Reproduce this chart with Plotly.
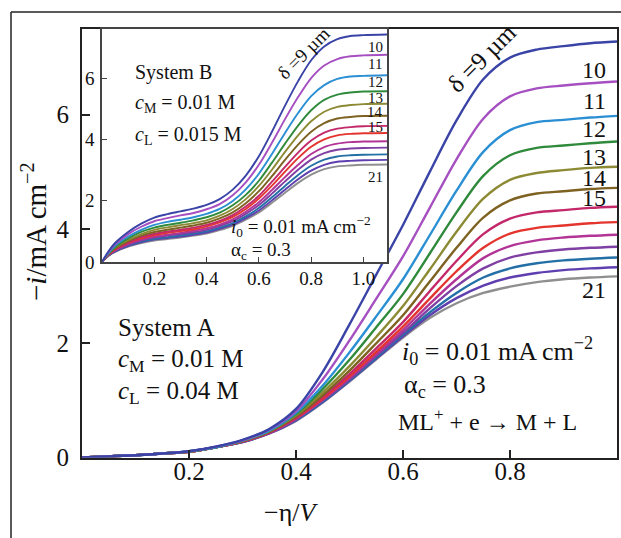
import plotly.graph_objects as go

# ---------------- data ----------------
DELTAS = [9, 10, 11, 12, 13, 14, 15, 16, 17, 18, 19, 20, 21]

# System A (main panel): -eta / V and -i / mA cm^-2 for each diffusion-layer thickness (um)
eta_a = [0, 0.05, 0.1, 0.15, 0.2, 0.25, 0.3, 0.35, 0.4, 0.45, 0.5, 0.55, 0.6, 0.65, 0.7,
         0.75, 0.8, 0.85, 0.9, 0.95, 1.0]
a_09 = [0, 0.02, 0.04, 0.07, 0.11, 0.19, 0.31, 0.50, 0.85, 1.50, 2.33, 3.20, 4.07, 5.00, 5.90, 6.62, 7.00, 7.14, 7.20, 7.25, 7.28]
a_10 = [0, 0.02, 0.04, 0.07, 0.11, 0.19, 0.30, 0.49, 0.81, 1.37, 2.05, 2.78, 3.52, 4.37, 5.22, 5.93, 6.32, 6.46, 6.51, 6.55, 6.58]
a_11 = [0, 0.02, 0.04, 0.07, 0.11, 0.18, 0.30, 0.47, 0.78, 1.26, 1.84, 2.47, 3.12, 3.89, 4.67, 5.35, 5.73, 5.87, 5.91, 5.95, 5.98]
a_12 = [0, 0.02, 0.04, 0.07, 0.11, 0.18, 0.29, 0.47, 0.76, 1.20, 1.71, 2.28, 2.86, 3.57, 4.29, 4.93, 5.29, 5.42, 5.46, 5.50, 5.53]
a_13 = [0, 0.02, 0.04, 0.07, 0.10, 0.18, 0.29, 0.46, 0.74, 1.14, 1.60, 2.11, 2.65, 3.29, 3.95, 4.53, 4.86, 4.98, 5.03, 5.07, 5.09]
a_14 = [0, 0.02, 0.04, 0.07, 0.10, 0.18, 0.29, 0.45, 0.72, 1.09, 1.52, 2.00, 2.49, 3.08, 3.67, 4.20, 4.50, 4.62, 4.66, 4.70, 4.72]
a_15 = [0, 0.02, 0.04, 0.07, 0.10, 0.18, 0.28, 0.44, 0.70, 1.06, 1.46, 1.91, 2.37, 2.91, 3.44, 3.91, 4.18, 4.29, 4.33, 4.37, 4.39]
a_16 = [0, 0.02, 0.04, 0.07, 0.10, 0.18, 0.28, 0.44, 0.69, 1.03, 1.42, 1.85, 2.29, 2.78, 3.26, 3.67, 3.92, 4.02, 4.06, 4.10, 4.12]
a_17 = [0, 0.02, 0.04, 0.07, 0.10, 0.18, 0.28, 0.43, 0.68, 1.01, 1.39, 1.81, 2.23, 2.69, 3.12, 3.49, 3.70, 3.80, 3.85, 3.88, 3.90]
a_18 = [0, 0.02, 0.04, 0.07, 0.10, 0.18, 0.28, 0.43, 0.67, 1.00, 1.37, 1.78, 2.18, 2.61, 3.00, 3.31, 3.50, 3.59, 3.64, 3.67, 3.69]
a_19 = [0, 0.02, 0.04, 0.07, 0.10, 0.18, 0.27, 0.43, 0.66, 0.98, 1.35, 1.75, 2.15, 2.54, 2.88, 3.15, 3.31, 3.40, 3.45, 3.48, 3.50]
a_20 = [0, 0.02, 0.04, 0.07, 0.10, 0.18, 0.27, 0.42, 0.65, 0.97, 1.34, 1.73, 2.12, 2.49, 2.79, 3.01, 3.15, 3.23, 3.28, 3.31, 3.33]
a_21 = [0, 0.02, 0.04, 0.07, 0.10, 0.18, 0.27, 0.42, 0.64, 0.96, 1.33, 1.72, 2.10, 2.44, 2.70, 2.88, 2.99, 3.07, 3.12, 3.15, 3.17]

# System B (inset)
eta_b = [0, 0.025, 0.05, 0.1, 0.15, 0.2, 0.25, 0.3, 0.35, 0.4, 0.45, 0.5, 0.55, 0.6, 0.65,
         0.7, 0.75, 0.8, 0.85, 0.9, 0.95, 1.0, 1.09]
b_09 = [0, 0.35, 0.62, 0.98, 1.25, 1.45, 1.56, 1.65, 1.74, 1.86, 2.05, 2.36, 2.82, 3.45, 4.25, 5.10, 5.90, 6.58, 7.03, 7.27, 7.37, 7.40, 7.42]
b_10 = [0, 0.33, 0.58, 0.91, 1.15, 1.33, 1.43, 1.52, 1.60, 1.72, 1.89, 2.18, 2.60, 3.17, 3.89, 4.66, 5.38, 6.00, 6.41, 6.62, 6.71, 6.74, 6.76]
b_11 = [0, 0.30, 0.53, 0.83, 1.05, 1.21, 1.31, 1.38, 1.46, 1.57, 1.73, 1.99, 2.37, 2.88, 3.52, 4.21, 4.86, 5.41, 5.77, 5.97, 6.05, 6.07, 6.09]
b_12 = [0, 0.28, 0.49, 0.77, 0.98, 1.12, 1.21, 1.28, 1.36, 1.46, 1.61, 1.85, 2.19, 2.65, 3.24, 3.86, 4.45, 4.95, 5.29, 5.46, 5.53, 5.56, 5.57]
b_13 = [0, 0.27, 0.47, 0.72, 0.91, 1.05, 1.13, 1.20, 1.27, 1.36, 1.51, 1.73, 2.05, 2.48, 3.01, 3.59, 4.13, 4.59, 4.90, 5.06, 5.12, 5.15, 5.16]
b_14 = [0, 0.26, 0.44, 0.68, 0.86, 0.98, 1.05, 1.12, 1.19, 1.28, 1.42, 1.62, 1.92, 2.31, 2.80, 3.33, 3.83, 4.25, 4.53, 4.68, 4.73, 4.76, 4.77]
b_15 = [0, 0.25, 0.42, 0.64, 0.81, 0.92, 0.99, 1.05, 1.12, 1.21, 1.34, 1.53, 1.81, 2.16, 2.62, 3.10, 3.57, 3.96, 4.22, 4.35, 4.40, 4.43, 4.44]
b_16 = [0, 0.24, 0.40, 0.62, 0.77, 0.88, 0.95, 1.01, 1.07, 1.16, 1.29, 1.47, 1.73, 2.07, 2.49, 2.95, 3.39, 3.76, 4.00, 4.13, 4.18, 4.20, 4.21]
b_17 = [0, 0.23, 0.38, 0.59, 0.73, 0.83, 0.89, 0.95, 1.02, 1.10, 1.22, 1.39, 1.64, 1.95, 2.35, 2.77, 3.17, 3.52, 3.75, 3.86, 3.91, 3.93, 3.94]
b_18 = [0, 0.22, 0.37, 0.56, 0.70, 0.80, 0.86, 0.91, 0.97, 1.05, 1.17, 1.33, 1.57, 1.86, 2.23, 2.63, 3.01, 3.34, 3.55, 3.66, 3.70, 3.72, 3.73]
b_19 = [0, 0.21, 0.35, 0.54, 0.67, 0.76, 0.81, 0.87, 0.93, 1.00, 1.12, 1.27, 1.49, 1.76, 2.11, 2.48, 2.84, 3.14, 3.34, 3.44, 3.48, 3.50, 3.51]
b_20 = [0, 0.21, 0.34, 0.52, 0.64, 0.73, 0.78, 0.83, 0.89, 0.96, 1.08, 1.22, 1.43, 1.68, 2.01, 2.36, 2.70, 2.98, 3.17, 3.27, 3.30, 3.32, 3.33]
b_21 = [0, 0.20, 0.33, 0.50, 0.62, 0.70, 0.75, 0.80, 0.86, 0.93, 1.04, 1.18, 1.38, 1.62, 1.93, 2.26, 2.58, 2.85, 3.03, 3.12, 3.15, 3.17, 3.18]

main_ticks = [0.2, 0.4, 0.6, 0.8]
main_yticks = [0, 2, 4, 6]
inset_ticks = [0.2, 0.4, 0.6, 0.8, 1.0]
inset_tick_text = ["0.2", "0.4", "0.6", "0.8", "1.0"]
inset_yticks = [0, 2, 4, 6]

# ---------------- styling ----------------
W, H = 621, 538
FONT = "Liberation Serif"
COLORS = ["#3a43a6", "#a54fc0", "#2b8fd3", "#2f8a3c", "#8c8a34", "#7d6222",
          "#c3286a", "#e4342e", "#b23596", "#7f3fa3", "#236fa6", "#5f3fb0", "#8f8f8f"]

main_series = [a_09, a_10, a_11, a_12, a_13, a_14, a_15, a_16, a_17, a_18, a_19, a_20, a_21]
inset_series = [b_09, b_10, b_11, b_12, b_13, b_14, b_15, b_16, b_17, b_18, b_19, b_20, b_21]


def px(x):
    return x / W


def py(y):
    return 1 - y / H


fig = go.Figure()

# thickest diffusion layer first so the delta = 9 um curve sits on top
for d, ys, col in reversed(list(zip(DELTAS, main_series, COLORS))):
    fig.add_trace(go.Scatter(x=eta_a, y=ys, mode="lines", name=f"{d} µm",
                             line=dict(color=col, width=2.4, shape="spline", smoothing=0.9),
                             xaxis="x", yaxis="y", showlegend=False))

for d, ys, col in reversed(list(zip(DELTAS, inset_series, COLORS))):
    fig.add_trace(go.Scatter(x=eta_b, y=ys, mode="lines", name=f"{d} µm",
                             line=dict(color=col, width=1.9, shape="spline", smoothing=0.9),
                             xaxis="x2", yaxis="y2", showlegend=False))

axis_common = dict(showgrid=False, zeroline=False, ticks="inside", showline=True, mirror=True,
                   automargin=False)

fig.update_layout(
    width=W, height=H,
    margin=dict(l=0, r=0, t=0, b=0, autoexpand=False),
    paper_bgcolor="white", plot_bgcolor="white",
    font=dict(family=FONT, color="#111"),
    xaxis=dict(domain=[px(82), px(617)], range=[0, 1.0], tickvals=main_ticks,
               tickfont=dict(size=25, family=FONT), ticklen=8, tickwidth=1.5, tickcolor="#222",
               linecolor="#222", linewidth=2, ticklabelstandoff=-10, anchor="y", **axis_common),
    yaxis=dict(domain=[py(457.5), py(29)], range=[0, 7.5], tickvals=main_yticks,
               tickfont=dict(size=25, family=FONT), ticklen=8, tickwidth=1.5, tickcolor="#222",
               linecolor="#222", linewidth=2, ticklabelstandoff=6, anchor="x", **axis_common),
    xaxis2=dict(domain=[px(102), px(387)], range=[0, 1.09], tickvals=inset_ticks,
                ticktext=inset_tick_text,
                tickfont=dict(size=19, family=FONT), ticklen=5, tickwidth=1.2, tickcolor="#444",
                linecolor="#444", linewidth=1.5, ticklabelstandoff=-2, anchor="y2", **axis_common),
    yaxis2=dict(domain=[py(262), py(29)], range=[0, 7.6], tickvals=inset_yticks,
                tickfont=dict(size=19, family=FONT), ticklen=5, tickwidth=1.2, tickcolor="#444",
                linecolor="#444", linewidth=1.5, ticklabelstandoff=2, anchor="x2", **axis_common),
)

# outer frame (top and left edges)
fig.add_shape(type="line", xref="paper", yref="paper", x0=px(11), y0=py(12), x1=1.0, y1=py(12),
              line=dict(color="#222", width=1.5))
fig.add_shape(type="line", xref="paper", yref="paper", x0=px(11), y0=py(12), x1=px(11), y1=0,
              line=dict(color="#222", width=1.5))


def note(text, x, y, size, xanchor="left", angle=0, yanchor="middle"):
    fig.add_annotation(text=text, xref="paper", yref="paper", x=px(x), y=py(y),
                       xanchor=xanchor, yanchor=yanchor, showarrow=False, textangle=angle,
                       font=dict(size=size, family=FONT, color="#111"))


# axis titles
note("−<i>i</i>/mA cm<sup>−2</sup>", 34, 232, 29, xanchor="center", angle=-90)
note("−η/<i>V</i>", 291, 512, 26, xanchor="center")

# main panel labels
note("System A", 116, 327, 25)
note("<i>c</i><sub>M</sub> = 0.01 M", 116, 360, 25)
note("<i>c</i><sub>L</sub> = 0.04 M", 116, 392, 25)
note("<i>i</i><sub>0</sub> = 0.01 mA cm<sup>−2</sup>", 400, 351, 26)
note("α<sub>c</sub> = 0.3", 402, 386, 26)
note("ML<sup>+</sup> + e → M + L", 396, 420, 24)
note("δ =9 µm", 481, 58, 25, xanchor="center", angle=-45)
for lab, yy in [("10", 70), ("11", 101), ("12", 129), ("13", 157), ("14", 178), ("15", 198), ("21", 290)]:
    note(lab, 594, yy, 24, xanchor="center")

# inset labels
note("System B", 133, 72, 20)
note("<i>c</i><sub>M</sub> = 0.01 M", 133, 104, 20)
note("<i>c</i><sub>L</sub> = 0.015 M", 133, 136, 20)
note("<i>i</i><sub>0</sub> = 0.01 mA cm<sup>−2</sup>", 229, 226, 19)
note("α<sub>c</sub> = 0.3", 229, 251, 19)
note("δ =9 µm", 303, 53, 19, xanchor="center", angle=-45)
for lab, yy in [("10", 47), ("11", 64), ("12", 82), ("13", 98), ("14", 112), ("15", 127), ("21", 177)]:
    note(lab, 375, yy, 15, xanchor="center")

fig.write_html("out.html")
